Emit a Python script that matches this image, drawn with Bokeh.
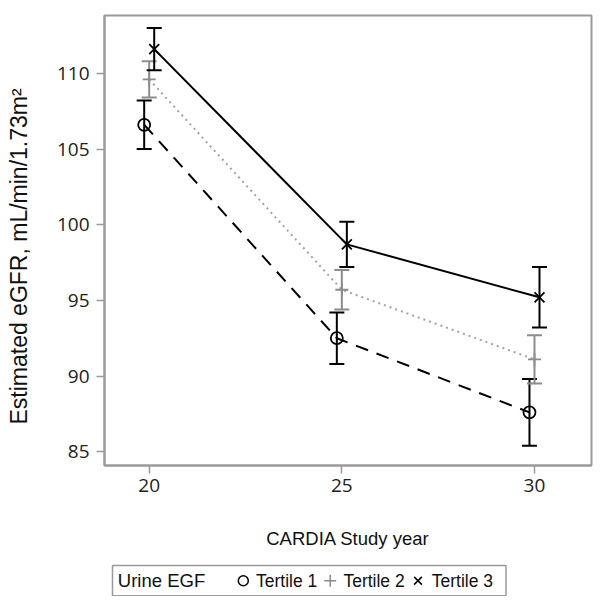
from bokeh.plotting import figure
from bokeh.layouts import column
from bokeh.models import Whisker, ColumnDataSource, TeeHead, FixedTicker
from bokeh.core.properties import value
from bokeh.embed import file_html
from bokeh.resources import INLINE

# ---- data ----
years = [20, 25, 30]
x_ticks = [20, 25, 30]
y_ticks = [85, 90, 95, 100, 105, 110]

t1_mean = [106.6, 92.5, 87.6]
t1_lower = [105.0, 90.8, 85.4]
t1_upper = [108.2, 94.2, 89.8]

t2_mean = [109.6, 95.7, 91.1]
t2_lower = [108.4, 94.4, 89.5]
t2_upper = [110.8, 97.0, 92.7]

t3_mean = [111.6, 98.7, 95.2]
t3_lower = [110.2, 97.2, 93.2]
t3_upper = [113.0, 100.2, 97.2]

group_labels = ["Tertile 1", "Tertile 2", "Tertile 3"]
legend_title = "Urine EGF"
y_title = "Estimated eGFR, mL/min/1.73m\u00b2"
x_title = "CARDIA Study year"
group_offset = [-0.13, 0.0, 0.13]

LABEL_FONT = "Liberation Sans"
TICK_FONT = "Open Sans"
FRAME = "#9a9a9a"
GREY = "#8c8c8c"
GREY_LINE = "#a3a3a3"
W = 593
H_MAIN = 555
H_LEG = 41
BL, BR = 104, 2

p = figure(width=W, height=H_MAIN, x_range=(18.84, 31.48), y_range=(84.09, 113.82),
           output_backend="svg", toolbar_location=None,
           min_border_left=BL, min_border_right=BR, min_border_top=15,
           min_border_bottom=90)

p.xgrid.visible = False
p.ygrid.visible = False
p.outline_line_color = FRAME
p.outline_line_width = 2
p.background_fill_color = "white"
p.border_fill_color = "white"

for ax in (p.xaxis[0], p.yaxis[0]):
    ax.axis_line_color = FRAME
    ax.axis_line_width = 2
    ax.major_tick_line_color = FRAME
    ax.major_tick_line_width = 1.5
    ax.major_tick_out = 8
    ax.major_tick_in = 0
    ax.minor_tick_line_color = None
    ax.major_label_text_font = TICK_FONT
    ax.major_label_text_font_size = "19px"
    ax.major_label_text_color = "#222222"
    ax.axis_label_text_font = LABEL_FONT
    ax.axis_label_text_font_style = "normal"
    ax.axis_label_text_color = "#111111"

p.xaxis.ticker = FixedTicker(ticks=x_ticks)
p.yaxis.ticker = FixedTicker(ticks=y_ticks)
p.xaxis.axis_label = x_title
p.xaxis.axis_label_text_font_size = "18.5px"
p.xaxis.major_label_standoff = 5
p.xaxis.axis_label_standoff = 33
p.yaxis.major_label_standoff = 7
# trailing no-break spaces nudge the centred label a little lower, as in the original
p.yaxis.axis_label = y_title + "\u00a0" * 5
p.yaxis.axis_label_text_font_size = "23px"
p.yaxis.axis_label_standoff = 22

groups = [
    (t1_mean, t1_lower, t1_upper, "black", "black"),
    (t2_mean, t2_lower, t2_upper, GREY, GREY_LINE),
    (t3_mean, t3_lower, t3_upper, "black", "black"),
]
dashes = ["13 9", "2 4", "solid"]
markers = ["circle", "cross", "x"]
msizes = [12, 13, 14]

for i, (m, lo, up, col, lcol) in enumerate(groups):
    xs = [y + group_offset[i] for y in years]
    src = ColumnDataSource(dict(x=xs, m=m, lo=lo, up=up))
    p.line("x", "m", source=src, line_color=lcol, line_width=2,
           line_dash=dashes[i])
    wh = Whisker(base="x", upper="up", lower="lo", source=src, dimension="height",
                 line_color=col, line_width=2,
                 upper_head=TeeHead(size=15, line_color=col, line_width=2),
                 lower_head=TeeHead(size=15, line_color=col, line_width=2))
    p.add_layout(wh)
    p.scatter("x", "m", source=src, marker=markers[i], size=msizes[i],
              line_color=col, fill_color=None, line_width=1.8)

# ---- legend strip (data units = canvas pixels) ----
lg = figure(width=W, height=H_LEG, x_range=(BL, W - BR), y_range=(0, H_LEG),
            output_backend="svg", toolbar_location=None,
            min_border_left=BL, min_border_right=BR, min_border_top=0,
            min_border_bottom=0, x_axis_location=None, y_axis_location=None)
lg.xgrid.visible = False
lg.ygrid.visible = False
lg.outline_line_color = None
lg.background_fill_color = "white"
lg.border_fill_color = "white"

yc = 15.75
lg.quad(left=[112], right=[505.5], bottom=[0.75], top=[31], fill_color=None,
        line_color=FRAME, line_width=1.5)
lg.text(x=[117.3], y=[yc], text=[legend_title], text_font=value(LABEL_FONT),
        text_font_size="18.5px", text_baseline="middle", text_align="left",
        text_color="#111111")
key_x = [242.8, 329.7, 417.5]
label_x = [255.5, 342.9, 431.3]
key_col = ["black", GREY, "black"]
key_size = [10, 12, 11]
for i in range(3):
    lg.scatter(x=[key_x[i]], y=[yc], marker=markers[i], size=key_size[i],
               line_color=key_col[i], fill_color=None, line_width=1.5)
lg.text(x=label_x, y=[yc] * 3, text=group_labels, text_font=value(LABEL_FONT),
        text_font_size="17.5px", text_baseline="middle", text_align="left",
        text_color="#111111")

layout = column(p, lg, spacing=0)
open("out.html", "w").write(file_html(layout, INLINE))
